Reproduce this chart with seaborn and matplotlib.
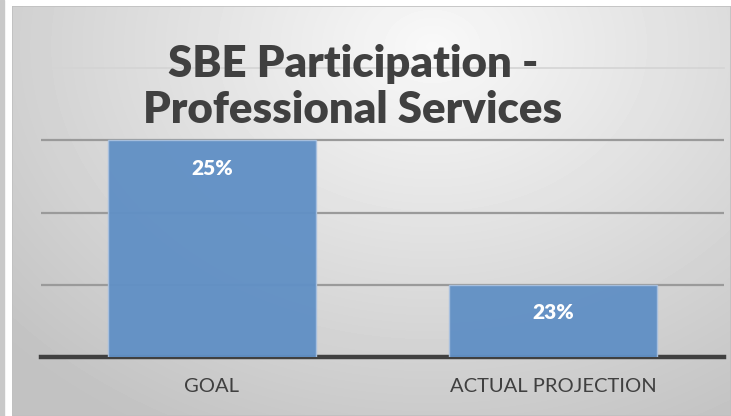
import numpy as np
import matplotlib
matplotlib.use('Agg')
import matplotlib.pyplot as plt
from matplotlib.patches import Rectangle
import seaborn as sns

# chart data
categories = ['GOAL', 'ACTUAL PROJECTION']
values = [25, 23]
value_labels = ['25%', '23%']

sns.set_style('white')
plt.rcParams['font.family'] = ['Lato', 'DejaVu Sans']

W, H = 731, 416
fig = plt.figure(figsize=(W / 100, H / 100), dpi=100)
fig.patch.set_facecolor('white')

# left gray strip
fig.patches.append(Rectangle((0, 0), 4 / W, 1, transform=fig.transFigure,
                             color='#c9c9c9', zorder=0))

# radial gradient panel behind the chart
bg = fig.add_axes([12 / W, 0, 1 - 12 / W, 1 - 6 / H])
gy, gx = np.mgrid[0:410, 0:719]
dist = np.sqrt(((gx - 420) / 560) ** 2 + ((gy - 40) / 430) ** 2)
shade = np.clip(0.975 - 0.21 * dist, 0.76, 0.975)
bg.imshow(shade, cmap='gray', vmin=0, vmax=1, aspect='auto', interpolation='bilinear')
bg.set_axis_off()
bg.add_patch(Rectangle((0, 0), 1, 1, transform=bg.transAxes, fill=False,
                       edgecolor='#c0c0c0', lw=1.2))

ax = fig.add_axes([41 / W, 1 - 357 / H, 683 / W, (357 - 68) / H])
ax.set_facecolor('none')
sns.barplot(x=categories, y=values, ax=ax, color='#6190c5', saturation=1,
            width=0.61, edgecolor='#a8c0df', linewidth=1, alpha=0.96, zorder=3)
ax.set_ylim(22, 26)
ax.set_yticks([23, 24, 25])
ax.set_yticklabels([])
ax.grid(axis='y', color='#9a9a9a', lw=1.6, zorder=1)
ax.set_axisbelow(True)
ax.set_xlabel('')
ax.set_ylabel('')
for side in ['left', 'right']:
    ax.spines[side].set_visible(False)
ax.spines['top'].set_color('#d4d4d4')
ax.spines['top'].set_linewidth(1.2)
ax.spines['bottom'].set_color('#404040')
ax.spines['bottom'].set_linewidth(3.2)
ax.tick_params(axis='x', length=0, pad=15, labelsize=14.5, labelcolor='#404040')
ax.tick_params(axis='y', length=0)

for i, (v, lab) in enumerate(zip(values, value_labels)):
    ax.text(i, v - 0.39, lab, ha='center', va='center', color='white',
            fontsize=15, fontweight='heavy', zorder=5)

fig.text(353 / W, 1 - 87 / H, 'SBE Participation -\nProfessional Services',
         ha='center', va='center', fontsize=31.5, fontweight='heavy',
         color='#404040', linespacing=1.2)

fig.savefig('out.png', dpi=100)
